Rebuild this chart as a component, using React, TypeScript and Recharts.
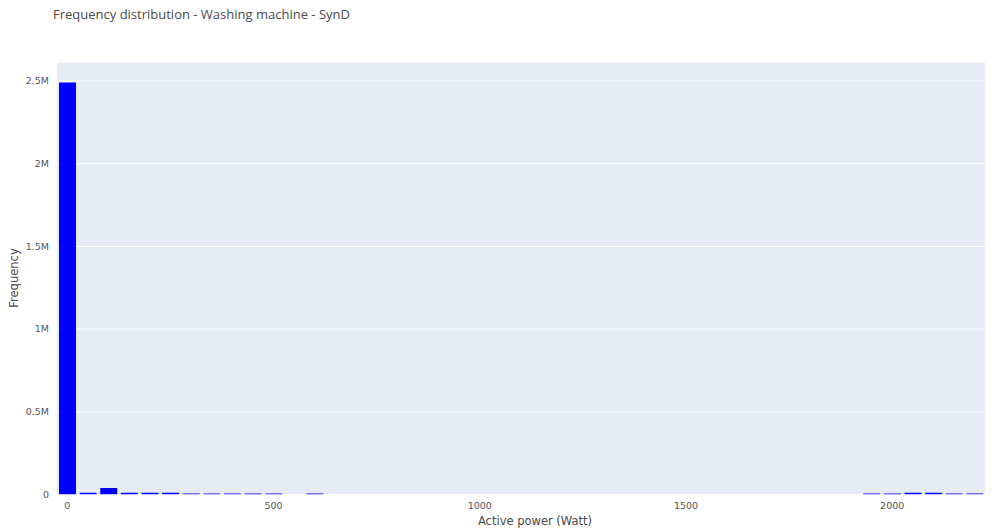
import { BarChart, Bar, XAxis, YAxis, CartesianGrid } from 'recharts'

// ─── Data ─────────────────────────────────────────────────────────────────────

// histogram bin centres (Watt), 50 W wide
const binCenters = [
  0, 50, 100, 150, 200, 250, 300, 350, 400, 450, 500, 550, 600, 650, 700, 750,
  800, 850, 900, 950, 1000, 1050, 1100, 1150, 1200, 1250, 1300, 1350, 1400,
  1450, 1500, 1550, 1600, 1650, 1700, 1750, 1800, 1850, 1900, 1950, 2000, 2050,
  2100, 2150, 2200,
]

const counts = [
  2491500, 10000, 40000, 10000, 10000, 10000, 6000, 6000, 6000, 6000, 6000, 0,
  6000, 0, 0, 0, 0, 0, 0, 0, 0, 0, 0, 0, 0, 0, 0, 0, 0, 0, 0, 0, 0, 0, 0, 0, 0,
  0, 0, 6000, 6000, 10000, 10000, 6000, 6000,
]

const xTicks = [0, 500, 1000, 1500, 2000]
const yTicks = [0, 500000, 1000000, 1500000, 2000000, 2500000]

const data = binCenters.map((bin, i) => ({ bin, count: counts[i] }))

// ─── Helpers ──────────────────────────────────────────────────────────────────

function formatMillions(v: number) {
  if (v === 0) return '0'
  return `${v / 1000000}M`
}

const FONT = '"DejaVu Sans", Verdana, sans-serif'
const TEXT = '#4a4a4a'
const TICK = '#555555'

// ─── App ──────────────────────────────────────────────────────────────────────

export default function App() {
  return (
    <div style={{ position: 'absolute', left: 0, top: 0, width: 999, height: 531, background: '#fff', fontFamily: FONT }}>
      <div style={{ position: 'absolute', left: 53, top: 5, fontSize: 13, color: TEXT, fontFamily: '"Open Sans", sans-serif', whiteSpace: 'nowrap' }}>
        Frequency distribution - Washing machine - SynD
      </div>
      <BarChart
        width={999}
        height={531}
        data={data}
        margin={{ top: 62, right: 14, left: 0, bottom: 0 }}
      >
        <CartesianGrid vertical={false} stroke="#ffffff" strokeWidth={1} fill="#E5ECF6" />
        <XAxis
          dataKey="bin"
          type="number"
          domain={[-25, 2225]}
          ticks={xTicks}
          axisLine={false}
          tickLine={false}
          height={36.5}
          tickMargin={2}
          tick={{ fontSize: 9.5, fill: TICK, fontFamily: FONT }}
          allowDataOverflow
        />
        <YAxis
          type="number"
          domain={[0, 2615000]}
          ticks={yTicks}
          tickFormatter={formatMillions}
          axisLine={false}
          tickLine={false}
          width={57}
          tickMargin={2}
          tick={{ fontSize: 9.5, fill: TICK, fontFamily: FONT }}
          allowDataOverflow
        />
        <Bar dataKey="count" fill="#0000ff" barSize={17} isAnimationActive={false} />
      </BarChart>
      <div style={{ position: 'absolute', left: 0, width: 1070, top: 514, textAlign: 'center', fontSize: 11.5, color: TEXT, whiteSpace: 'nowrap' }}>
        Active power (Watt)
      </div>
      <div
        style={{
          position: 'absolute',
          left: 14,
          top: 278,
          transform: 'translate(-50%, -50%) rotate(-90deg)',
          fontSize: 11.5,
          color: TEXT,
          whiteSpace: 'nowrap',
        }}
      >
        Frequency
      </div>
    </div>
  )
}
